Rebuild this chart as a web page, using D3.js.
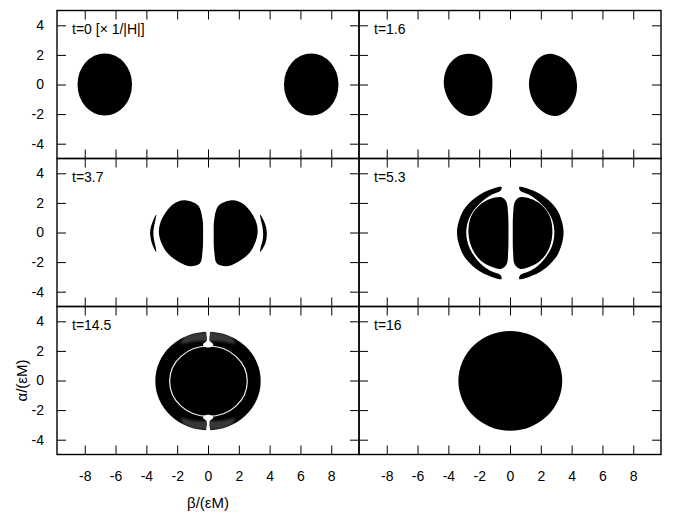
<!DOCTYPE html>
<html>
<head>
<meta charset="utf-8">
<script src="https://cdn.jsdelivr.net/npm/d3@7.9.0/dist/d3.min.js"></script>
<style>
  body { margin: 0; background: #fff; }
  svg text { font-family: "Liberation Sans", Arial, Helvetica, sans-serif; fill: #000; }
</style>
</head>
<body>
<svg id="chart" width="676" height="518"></svg>
<script>
// axes
const xDomain = [-9.8, 9.8];
const yDomain = [-5, 5];
const xTicks = [-8, -6, -4, -2, 0, 2, 4, 6, 8];
const yTicks = [-4, -2, 0, 2, 4];
const panelLabels = ['t=0 [\u00d7 1/|H|]', 't=1.6', 't=3.7', 't=5.3', 't=14.5', 't=16'];

// t=0 : two ellipses (beta, alpha, radii)
const ellipsesT0 = [
  { cx: -6.7, cy: 0, rx: 1.77, ry: 2.1 },
  { cx: 6.7, cy: 0, rx: 1.77, ry: 2.1 },
];

// t=1.6 : egg shaped blobs, outline points
const blobsT16 = [
  [[-2.6, 2.08], [-1.75, 1.75], [-1.22, 0.8], [-1.15, -0.2], [-1.35, -1.2], [-1.9, -1.9],
   [-2.55, -2.13], [-3.3, -1.85], [-4.0, -1.0], [-4.3, 0.1], [-4.05, 1.2], [-3.4, 1.9]],
  [[2.55, 2.08], [3.4, 1.8], [4.1, 1.0], [4.35, -0.1], [4.15, -1.1], [3.6, -1.85],
   [2.95, -2.13], [2.2, -1.9], [1.5, -1.1], [1.23, 0.0], [1.45, 1.1], [1.9, 1.8]],
];

// t=3.7 : two kidneys and two thin arcs
const kidneysT37 = [
  [[-1.39, 2.16], [-0.64, 1.82], [-0.36, 0.93], [-0.32, -0.19], [-0.36, -1.32], [-0.53, -2.1],
   [-1.18, -2.28], [-1.83, -2.03], [-2.69, -1.32], [-3.17, -0.19], [-3.08, 0.7], [-2.48, 1.71], [-1.94, 2.09]],
  [[1.44, 2.16], [0.69, 1.82], [0.41, 0.93], [0.37, -0.19], [0.41, -1.32], [0.58, -2.1],
   [1.23, -2.28], [1.88, -2.03], [2.74, -1.32], [3.2, -0.19], [3.13, 0.7], [2.53, 1.71], [1.99, 2.09]],
];
const arcsT37 = [
  [[-3.36, 1.22], [-3.55, 0.85], [-3.7, 0.4], [-3.76, -0.05], [-3.7, -0.5], [-3.56, -0.95], [-3.36, -1.32],
   [-3.4, -0.98], [-3.5, -0.5], [-3.55, -0.05], [-3.5, 0.4], [-3.4, 0.9]],
  [[3.38, 1.22], [3.6, 0.85], [3.76, 0.4], [3.82, -0.1], [3.76, -0.6], [3.6, -1.0], [3.38, -1.32],
   [3.42, -1.0], [3.54, -0.55], [3.58, -0.1], [3.53, 0.4], [3.42, 0.9]],
];

// t=5.3 : two kidneys inside two crescents
const kidneysT53 = [
  [[-0.55, 2.38], [-0.25, 2.1], [-0.12, 1.2], [-0.1, 0], [-0.12, -1.3], [-0.22, -2.15], [-0.55, -2.45],
   [-1.2, -2.32], [-1.9, -1.9], [-2.45, -1.1], [-2.7, 0], [-2.52, 1.1], [-1.95, 1.88], [-1.25, 2.28]],
  [[0.65, 2.38], [0.33, 2.1], [0.2, 1.2], [0.18, 0], [0.2, -1.3], [0.3, -2.15], [0.63, -2.45],
   [1.28, -2.32], [1.98, -1.9], [2.53, -1.1], [2.75, 0], [2.58, 1.1], [2.03, 1.88], [1.33, 2.28]],
];
const crescentsT53 = [
  [[-0.55, 3.08], [-1.3, 2.89], [-2.0, 2.54], [-2.6, 2.04], [-3.1, 1.35], [-3.44, 0], [-3.1, -1.38],
   [-2.6, -2.08], [-2.0, -2.6], [-1.3, -2.95], [-0.55, -3.15],
   [-0.62, -2.88], [-1.2, -2.62], [-1.76, -2.24], [-2.3, -1.62], [-2.7, -0.84], [-2.84, 0],
   [-2.7, 0.83], [-2.3, 1.57], [-1.76, 2.15], [-1.2, 2.55], [-0.62, 2.82]],
  [[0.6, 3.08], [1.35, 2.89], [2.05, 2.54], [2.65, 2.04], [3.15, 1.35], [3.48, 0], [3.15, -1.38],
   [2.65, -2.08], [2.05, -2.6], [1.35, -2.95], [0.6, -3.15],
   [0.67, -2.88], [1.25, -2.62], [1.81, -2.24], [2.35, -1.62], [2.75, -0.84], [2.88, 0],
   [2.75, 0.83], [2.35, 1.57], [1.81, 2.15], [1.25, 2.55], [0.67, 2.82]],
];

// t=14.5 : disk with a thin white ring, speckled bands and notches at the poles
const diskT145 = [{ cx: 0, cy: -0.03, rx: 3.42, ry: 3.33 }];
const ringT145 = [{ cx: 0.03, cy: -0.05, rx: 2.52, ry: 2.38 }];
const hazeT145 = [
  [[-1.75, 2.5], [-1.5, 2.95], [-0.8, 3.2], [0, 3.27], [0.8, 3.2], [1.5, 2.95], [1.75, 2.5],
   [1.0, 2.62], [0.4, 2.66], [-0.4, 2.66], [-1.0, 2.62]],
  [[-1.75, -2.56], [-1.5, -3.0], [-0.8, -3.26], [0, -3.33], [0.8, -3.26], [1.5, -3.0], [1.75, -2.56],
   [1.0, -2.7], [0.4, -2.74], [-0.4, -2.74], [-1.0, -2.7]],
];
const notchesT145 = [
  [[-0.1, 3.45], [0.12, 3.45], [0.1, 2.7], [0.35, 2.42], [0.15, 2.25], [-0.13, 2.25], [-0.33, 2.42], [-0.08, 2.7]],
  [[-0.1, -3.5], [0.12, -3.5], [0.1, -2.78], [0.35, -2.5], [0.15, -2.33], [-0.13, -2.33], [-0.33, -2.5], [-0.08, -2.78]],
];

// t=16 : one disk
const diskT16 = [{ cx: 0.02, cy: -0.02, rx: 3.37, ry: 3.37 }];

const panels = [
  { label: panelLabels[0], ellipses: ellipsesT0 },
  { label: panelLabels[1], blobs: blobsT16 },
  { label: panelLabels[2], blobs: kidneysT37.concat(arcsT37) },
  { label: panelLabels[3], blobs: kidneysT53.concat(crescentsT53) },
  { label: panelLabels[4], ellipses: diskT145, haze: hazeT145, notches: notchesT145, ring: ringT145 },
  { label: panelLabels[5], ellipses: diskT16 },
];

const margin = { left: 57, top: 10.5 };
const pw = 302;
const ph = 148;

const svg = d3.select('#chart');

const defs = svg.append('defs');
defs.append('filter')
  .attr('id', 'soft')
  .attr('x', '-20%').attr('y', '-20%').attr('width', '140%').attr('height', '140%')
  .append('feGaussianBlur')
  .attr('stdDeviation', 1.3);
defs.append('filter')
  .attr('id', 'fuzz')
  .attr('x', '-50%').attr('y', '-20%').attr('width', '200%').attr('height', '140%')
  .append('feGaussianBlur')
  .attr('stdDeviation', 0.6);

const x = d3.scaleLinear().domain(xDomain).range([0, pw]);
const y = d3.scaleLinear().domain(yDomain).range([ph, 0]);

const outline = d3
  .line()
  .x((d) => x(d[0]))
  .y((d) => y(d[1]))
  .curve(d3.curveCatmullRomClosed.alpha(0.5));

function drawEllipses(g, data) {
  return g.append('g')
    .selectAll('ellipse')
    .data(data)
    .join('ellipse')
    .attr('cx', (d) => x(d.cx))
    .attr('cy', (d) => y(d.cy))
    .attr('rx', (d) => x(d.rx) - x(0))
    .attr('ry', (d) => y(0) - y(d.ry));
}

panels.forEach((p, i) => {
  const col = i % 2;
  const row = Math.floor(i / 2);
  const g = svg
    .append('g')
    .attr('transform', `translate(${margin.left + col * pw},${margin.top + row * ph})`);

  if (p.ellipses) drawEllipses(g, p.ellipses).attr('fill', '#000');

  if (p.blobs) {
    g.append('g')
      .selectAll('path')
      .data(p.blobs)
      .join('path')
      .attr('d', outline)
      .attr('fill', '#000');
  }

  if (p.haze) {
    g.append('g')
      .attr('filter', 'url(#soft)')
      .selectAll('path')
      .data(p.haze)
      .join('path')
      .attr('d', outline)
      .attr('fill', '#fff')
      .attr('fill-opacity', 0.22);
  }

  if (p.ring) {
    drawEllipses(g, p.ring)
      .attr('fill', 'none')
      .attr('stroke', '#f2f2f2')
      .attr('stroke-width', 1.2);
  }

  if (p.notches) {
    g.append('g')
      .attr('filter', 'url(#fuzz)')
      .selectAll('path')
      .data(p.notches)
      .join('path')
      .attr('d', outline)
      .attr('fill', '#fff');
  }

  // axes, ticks pointing inwards on all four sides
  const fmt = (d) => String(d);
  const style = (a) => {
    a.select('.domain').remove();
    a.selectAll('.tick line').attr('stroke', '#000').attr('stroke-width', 1);
    a.attr('font-size', 14).attr('font-family', null);
  };

  g.append('g')
    .attr('transform', `translate(0,${ph})`)
    .call(d3.axisBottom(x).tickValues(xTicks).tickSize(-9).tickPadding(17)
      .tickFormat(row === 2 ? fmt : ''))
    .call(style);
  g.append('g')
    .call(d3.axisTop(x).tickValues(xTicks).tickSize(-9).tickFormat(''))
    .call(style);
  g.append('g')
    .call(d3.axisLeft(y).tickValues(yTicks).tickSize(-9).tickPadding(13)
      .tickFormat(col === 0 ? fmt : ''))
    .call(style);
  g.append('g')
    .attr('transform', `translate(${pw},0)`)
    .call(d3.axisRight(y).tickValues(yTicks).tickSize(-9).tickFormat(''))
    .call(style);

  g.append('rect')
    .attr('width', pw)
    .attr('height', ph)
    .attr('fill', 'none')
    .attr('stroke', '#000')
    .attr('stroke-width', 1.4);

  g.append('text')
    .attr('x', 15)
    .attr('y', 23)
    .attr('font-size', 14)
    .text(p.label);
});

svg.append('text')
  .attr('x', margin.left + pw / 2)
  .attr('y', 508)
  .attr('text-anchor', 'middle')
  .attr('font-size', 15)
  .text('\u03b2/(\u03b5M)');

svg.append('text')
  .attr('transform', `translate(27,${margin.top + 2.5 * ph}) rotate(-90)`)
  .attr('text-anchor', 'middle')
  .attr('font-size', 15)
  .text('\u03b1/(\u03b5M)');
</script>
</body>
</html>
